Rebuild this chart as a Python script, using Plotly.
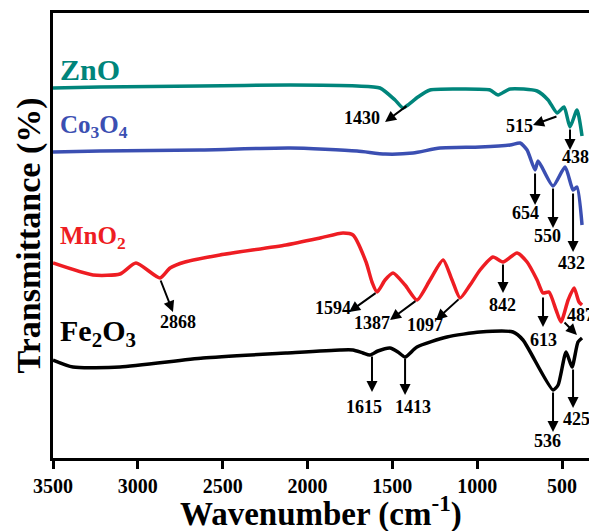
import plotly.graph_objects as go

# ---------------- data (wavenumber, offset transmittance in arbitrary units) -------------
wn_zno = [3500, 3223, 2634, 2103, 1708, 1573, 1484, 1437, 1408, 1349, 1278, 1101, 924, 877,
          806, 647, 582, 529, 488, 453, 412, 382]
t_zno = [370, 371, 372, 373, 372, 370, 358, 350, 353, 361, 368, 369, 368, 363,
         369, 367, 358, 345, 351, 331, 348, 322]

wn_co = [3500, 3223, 2634, 2103, 1708, 1543, 1378, 1219, 983, 806, 747, 706, 659, 641,
         553, 482, 435, 412, 382]
t_co = [306, 307, 308, 310, 307, 304, 305, 310, 311, 313, 315, 308, 288, 297,
        272, 291, 268, 271, 233]

wn_mn = [3500, 3264, 3105, 3011, 2869, 2810, 2722, 2516, 2127, 1926, 1791, 1732, 1655, 1620,
         1590, 1543, 1496, 1425, 1355, 1278, 1201, 1148, 1101, 1042, 983, 907, 848, 765,
         706, 647, 612, 577, 535, 506, 464, 429, 400, 382]
t_mn = [195, 183, 184, 195, 180, 190, 196, 203, 213, 220, 225, 223, 196, 176,
        166, 178, 185, 173, 158, 178, 198, 178, 160, 173, 188, 201, 196, 205,
        196, 178, 165, 166, 148, 136, 158, 170, 156, 153]

wn_fe = [3500, 3382, 3105, 2616, 2127, 1808, 1732, 1673, 1632, 1585, 1514, 1467, 1425, 1355,
         1178, 983, 789, 730, 553, 523, 476, 441, 406, 382]
t_fe = [98, 91, 91, 100, 105, 108, 108, 105, 103, 107, 110, 106, 101, 111,
        121, 126, 126, 118, 68, 73, 106, 91, 116, 120]

x_ticks = [3500, 3000, 2500, 2000, 1500, 1000, 500]

# peak labels: text, arrow tail (on curve), arrow head, label position
peak_text = ["1430", "515", "438", "654", "550", "432", "2868", "1594", "1387", "1097",
             "842", "613", "487", "1615", "1413", "536", "425"]
tail_wn = [1408, 524, 453, 659, 553, 435, 2869, 1590, 1355, 1101, 848, 612, 494, 1620, 1425, 553, 435]
tail_t = [353, 342, 330, 286, 271, 266, 179, 166, 158, 160, 195, 162, 137, 103, 101, 67, 90]
head_wn = [1543, 671, 453, 659, 553, 435, 2793, 1755, 1514, 1243, 848, 612, 412, 1620, 1425, 553, 435]
head_t = [336, 333, 308, 253, 230, 206, 146, 146, 138, 138, 165, 131, 123, 66, 63, 26, 50]
lab_wn = [1679, 748, 423, 718, 583, 447, 2763, 1850, 1620, 1307, 848, 612, 394, 1667, 1378, 588, 412]
lab_t = [340, 332, 301, 245, 222, 195, 136, 150, 135, 133, 153, 118, 143, 51, 51, 17, 39]

series_names = ["ZnO", "Co<sub>3</sub>O<sub>4</sub>", "MnO<sub>2</sub>", "Fe<sub>2</sub>O<sub>3</sub>"]
series_colors = ["#00857b", "#3b4fb2", "#ee1d23", "#000000"]
name_t = [389, 332, 221, 125]
name_size = [30, 25, 25, 30]

FONT = "Liberation Serif"

fig = go.Figure()
for wn, t, col in [(wn_zno, t_zno, series_colors[0]), (wn_co, t_co, series_colors[1]),
                   (wn_mn, t_mn, series_colors[2]), (wn_fe, t_fe, series_colors[3])]:
    fig.add_trace(go.Scatter(x=wn, y=t, mode="lines",
                             line=dict(color=col, width=3.5, shape="spline", smoothing=0.6),
                             showlegend=False, hoverinfo="skip"))

ann = []
for i, txt in enumerate(peak_text):
    ann.append(dict(x=head_wn[i], y=head_t[i], ax=tail_wn[i], ay=tail_t[i],
                    xref="x", yref="y", axref="x", ayref="y", text="",
                    showarrow=True, arrowhead=2, arrowsize=1.1, arrowwidth=2,
                    arrowcolor="black"))
    ann.append(dict(x=lab_wn[i], y=lab_t[i], xref="x", yref="y", text=txt,
                    showarrow=False, xanchor="center", yanchor="middle",
                    font=dict(family=FONT, size=18, color="black", weight="bold")))

for i, nm in enumerate(series_names):
    ann.append(dict(x=3470, y=name_t[i], xref="x", yref="y", text=nm, showarrow=False,
                    xanchor="left", yanchor="middle",
                    font=dict(family=FONT, size=name_size[i], color=series_colors[i], weight="bold")))

# axis titles
ann.append(dict(x=0.5, y=0, xref="paper", yref="paper", yshift=-53, text="Wavenumber (cm<sup>-1</sup>)",
                showarrow=False, xanchor="center", yanchor="middle",
                font=dict(family=FONT, size=33, color="black", weight="bold")))
ann.append(dict(x=0, y=0.5, xref="paper", yref="paper", xshift=-25, text="Transmittance (%)",
                showarrow=False, xanchor="center", yanchor="middle", textangle=-90,
                font=dict(family=FONT, size=34, color="black", weight="bold")))

fig.update_layout(
    width=589, height=531,
    margin=dict(l=53, r=0, t=13, b=73),
    paper_bgcolor="white", plot_bgcolor="white",
    annotations=ann,
    xaxis=dict(range=[3500, 341], tickmode="array", tickvals=x_ticks,
               ticktext=[str(v) for v in x_ticks],
               ticks="outside", ticklen=8, tickwidth=2.5, tickcolor="black",
               showline=True, linecolor="black", linewidth=3, mirror=True,
               showgrid=False, zeroline=False,
               tickfont=dict(family=FONT, size=20, color="black", weight="bold")),
    yaxis=dict(range=[0, 445], showticklabels=False, ticks="",
               showline=True, linecolor="black", linewidth=3, mirror=False,
               showgrid=False, zeroline=False),
)

fig.write_html("out.html")
